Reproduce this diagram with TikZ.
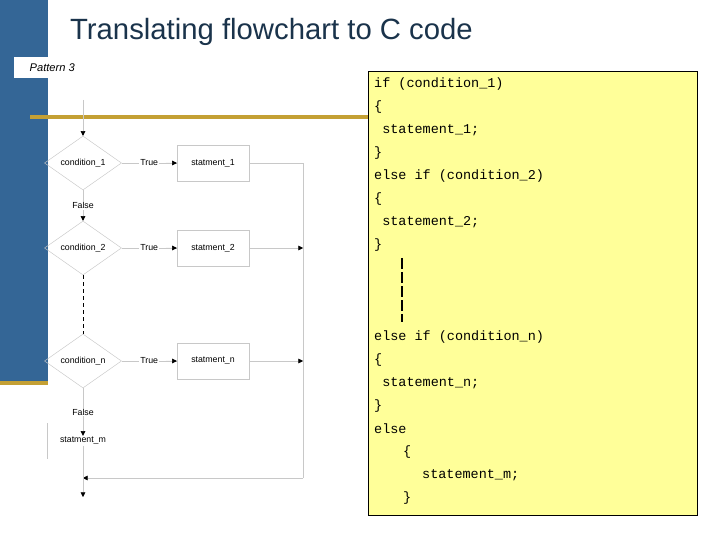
\documentclass[tikz,border=0pt]{standalone}
\usepackage{fontspec}
\setsansfont{Liberation Sans}
\setmonofont{Liberation Mono}
\usetikzlibrary{calc,shapes.geometric,arrows.meta,positioning}
\definecolor{barblue}{RGB}{52,102,150}
\definecolor{gold}{RGB}{196,160,52}
\definecolor{codebg}{RGB}{255,255,153}
\definecolor{flowgray}{RGB}{200,200,200}
\tikzset{
  cond/.style={diamond,draw=flowgray,text=black,aspect=1.45,minimum width=77\px,minimum height=54\px,inner sep=0pt,font=\sffamily\fontsize{7.5}{8}\selectfont},
  stmt/.style={draw=flowgray,text=black,minimum width=72\px,minimum height=36\px,font=\sffamily\fontsize{7.5}{8}\selectfont},
  lbl/.style={text=black,font=\sffamily\fontsize{7.5}{8}\selectfont,inner sep=1pt},
  flow/.style={flowgray,-{Triangle[black,length=4pt,width=4pt]}},
  code/.style={anchor=west,font=\ttfamily\fontsize{11.5}{13}\selectfont,inner sep=0pt}
}
\newlength{\px}\setlength{\px}{0.03cm}
\begin{document}
\begin{tikzpicture}[x=0.03cm,y=-0.03cm]
\useasboundingbox (0,0) rectangle (720,540);
% slide frame
\fill[barblue] (0,0) rectangle (48,383);
\fill[gold] (30,115) rectangle (368,119);
\fill[gold] (0,381) rectangle (48,385);
\node[anchor=west,font=\sffamily\fontsize{25}{30}\selectfont,text=barblue!50!black] (title) at (66,32) {Translating flowchart to C code};
\node[fill=white,anchor=north west,font=\sffamily\itshape\fontsize{9.5}{10}\selectfont,minimum width=76\px,minimum height=21\px,inner sep=1pt] (pat) at (14,57) {Pattern 3};
% flowchart
\node[cond] (c1) at (83,163) {condition\_1};
\node[cond] (c2) at (83,248) {condition\_2};
\node[cond] (cn) at (83,361) {condition\_n};
\node[stmt] (s1) at (213,163) {statment\_1};
\node[stmt] (s2) at (213,248) {statment\_2};
\node[stmt] (sn) at (213,361) {statment\_n};
\node[lbl] (sm) at (83,441) {statment\_m};
\draw[flowgray] (47,423) -- (47,459);
\coordinate (top) at (83,100);
\coordinate (r1) at (303,163);
\coordinate (r2) at (303,248);
\coordinate (rn) at (303,361);
\coordinate (rb) at (303,478);
\coordinate (jn) at (83,478);
\coordinate (out) at (83,497);
\draw[flow] (top) -- (c1.north);
\foreach \c/\s in {c1/s1,c2/s2,cn/sn}{
  \draw[flowgray] (\c.east) -- node[lbl,fill=white] {True} (\s.west);
  \draw[flow] ($(\c.east)!0.8!(\s.west)$) -- (\s.west);
}
\draw[flow] (c1.south) -- node[lbl,fill=white] {False} (c2.north);
\draw[dashed,thick] (c2.south) -- (cn.north);
\draw[flow] (cn.south) -- node[lbl,fill=white] {False} (sm.north);
\draw[flowgray] (s1.east) -- (r1) -- (rb);
\draw[flow] (s2.east) -- (r2);
\draw[flow] (sn.east) -- (rn);
\draw[flow] (rb) -- (jn);
\draw[flowgray] (sm.south) -- (jn);
\draw[flow] (jn) -- (out);
% code
\node[draw,fill=codebg,anchor=north west,minimum width=329\px,minimum height=444\px] (box) at (368,71) {};
\foreach \y/\t in {84/{if (condition\_1)},107/{\{},130/{\ statement\_1;},153/{\}},
  176/{else if (condition\_2)},199/{\{},222/{\ statement\_2;},245/{\}},
  337/{else if (condition\_n)},360/{\{},383/{\ statement\_n;},406/{\}},429/{else}}
  \node[code] at (374,\y) {\t};
\node[code] at (403,452) {\{};
\node[code] at (422,475) {statement\_m;};
\node[code] at (403,498) {\}};
\draw[line width=2.5pt,dash pattern=on 9pt off 3pt] (402,258) -- (402,322);
\end{tikzpicture}
\end{document}
